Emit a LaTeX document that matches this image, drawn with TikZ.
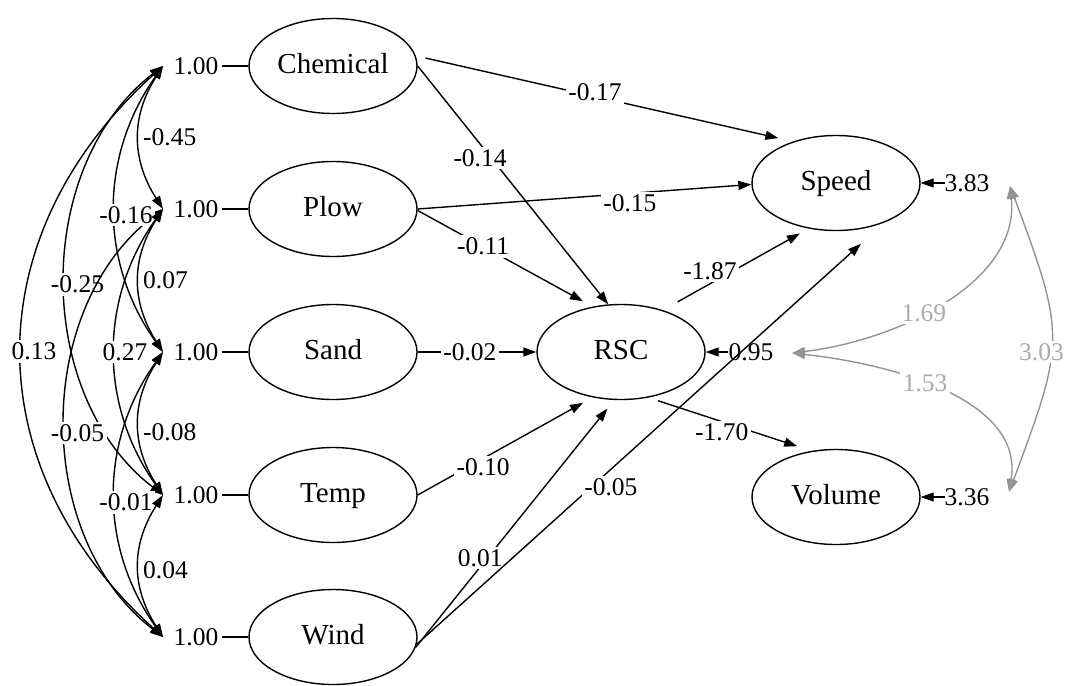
\documentclass[tikz,border=0pt]{standalone}
\usepackage{fontspec}
\setmainfont{Liberation Serif}
\usetikzlibrary{arrows.meta,shapes.geometric}
\tikzset{
  lat/.style={ellipse,draw,line width=1.4pt,minimum width=168pt,minimum height=95pt,inner sep=0pt,font=\fontsize{29}{32}\selectfont,text height=20pt,text depth=5pt},
  vnum/.style={inner xsep=3.5pt,inner ysep=0pt,font=\fontsize{25.5}{28}\selectfont},
  rnum/.style={inner sep=0pt,font=\fontsize{25.5}{28}\selectfont},
  lab/.style={fill=white,inner sep=2.5pt,font=\fontsize{25.5}{28}\selectfont},
  glab/.style={lab,text=black!33},
  semedge/.style={line width=1.4pt,-{Triangle[length=13pt,width=9pt]}},
  semcov/.style={line width=1.4pt,{Triangle[length=13pt,width=9pt]}-{Triangle[length=13pt,width=9pt]}},
  gcov/.style={semcov,draw=black!42},
  link/.style={line width=1.4pt},
}
\begin{document}
\begin{tikzpicture}[x=1pt,y=-1pt]
\useasboundingbox (0,0) rectangle (1067,685);

% latent / observed nodes
\node[lat] (Chem) at (333,66) {Chemical};
\node[lat] (Plow) at (333,209) {Plow};
\node[lat] (Sand) at (333,352) {Sand};
\node[lat] (Temp) at (333,495) {Temp};
\node[lat] (Wind) at (333,637) {Wind};
\node[lat] (RSC) at (621,352) {RSC};
\node[lat] (Speed) at (836,183) {Speed};
\node[lat] (Volume) at (836,497) {Volume};

% variances of exogenous
\node[vnum] (v1) at (196,66) {1.00};
\node[vnum] (v2) at (196,209) {1.00};
\node[vnum] (v3) at (196,352) {1.00};
\node[vnum] (v4) at (196,495) {1.00};
\node[vnum] (v5) at (196,637) {1.00};
\draw[link] (v1.east) -- (Chem.west);
\draw[link] (v2.east) -- (Plow.west);
\draw[link] (v3.east) -- (Sand.west);
\draw[link] (v4.east) -- (Temp.west);
\draw[link] (v5.east) -- (Wind.west);

\coordinate (e1) at (163,66);
\coordinate (e2) at (163,209);
\coordinate (e3) at (163,352);
\coordinate (e4) at (163,495);
\coordinate (e5) at (163,637);

% covariances among exogenous
\draw[semcov] (e1) .. controls +(-188,170) and +(-188,-170) .. node[lab,pos=.5,xshift=12pt]{0.13} (e5);
\draw[semcov] (e1) .. controls +(-130,100) and +(-130,-100) .. node[lab,pos=.5,xshift=12pt,yshift=-4pt]{-0.25} (e4);
\draw[semcov] (e2) .. controls +(-130,100) and +(-130,-100) .. node[lab,pos=.5,xshift=12pt,yshift=-10pt]{-0.05} (e5);
\draw[semcov] (e1) .. controls +(-64,90) and +(-64,-90) .. node[lab,pos=.5,xshift=11pt,yshift=-6pt]{-0.16} (e3);
\draw[semcov] (e2) .. controls +(-64,90) and +(-64,-90) .. node[lab,pos=.5,xshift=10pt]{0.27} (e4);
\draw[semcov] (e3) .. controls +(-64,90) and +(-64,-90) .. node[lab,pos=.5,xshift=11pt,yshift=-8pt]{-0.01} (e5);
\draw[semcov] (e1) .. controls +(-32,50) and +(-32,-50) .. node[lab,pos=.5,anchor=west,xshift=1pt]{-0.45} (e2);
\draw[semcov] (e2) .. controls +(-32,50) and +(-32,-50) .. node[lab,pos=.5,anchor=west,xshift=1pt]{0.07} (e3);
\draw[semcov] (e3) .. controls +(-32,50) and +(-32,-50) .. node[lab,pos=.5,anchor=west,xshift=1pt,yshift=-9pt]{-0.08} (e4);
\draw[semcov] (e4) .. controls +(-32,50) and +(-32,-50) .. node[lab,pos=.5,anchor=west,xshift=1pt,yshift=-4pt]{0.04} (e5);

% regressions
\draw[semedge,shorten <=10pt,shorten >=15pt] (Chem.7) -- node[lab,pos=.475,yshift=4pt]{-0.17} (Speed.136);
\draw[semedge] (Chem.0) -- node[lab,pos=.385,xshift=-11pt]{-0.14} (RSC.105);
\draw[semedge] (Plow.0) -- node[lab,pos=.636,yshift=-10pt]{-0.15} (Speed.181);
\draw[semedge,shorten >=11pt] (Plow.-1) -- node[lab,pos=.374]{-0.11} (RSC.122);
\draw[semedge] (Sand.east) -- node[lab,pos=.44]{-0.02} (RSC.west);
\draw[semedge,shorten >=11pt] (Temp.0) -- node[lab,pos=.374,yshift=-9pt]{-0.10} (RSC.-122);
\draw[semedge,shorten >=11pt] (Wind.-7) -- node[lab,pos=.36,xshift=-7pt]{0.01} (RSC.-98);
\draw[semedge,shorten >=32pt] (Wind.-5) -- node[lab,pos=.415,yshift=-18pt]{-0.05} (Speed.-39);
\draw[semedge,shorten <=17pt,shorten >=10pt] (RSC.45) -- node[lab,pos=.323,yshift=13pt]{-1.87} (Speed.239);
\draw[semedge,shorten <=10pt,shorten >=15pt] (RSC.-59) -- node[lab,pos=.45,yshift=-11pt]{-1.70} (Volume.118);

% residuals
\node[rnum] (rS) at (967,183) {3.83};
\node[rnum] (rR) at (751,352) {0.95};
\node[rnum] (rV) at (967,497) {3.36};
\draw[semedge] (rS.west) -- (Speed.east);
\draw[semedge] (rR.west) -- (RSC.east);
\draw[semedge] (rV.west) -- (Volume.east);

% residual covariances
\coordinate (gS) at (1010,186);
\coordinate (gR) at (792,353);
\coordinate (gV) at (1009,492);
\draw[gcov] (gS) .. controls +(56,150) and +(56,-150) .. node[glab,pos=.5,xshift=-10pt,yshift=-13pt]{3.03} (gV);
\draw[gcov] (gS) .. controls +(10,95) and +(108,-13) .. node[glab,pos=.58]{1.69} (gR);
\draw[gcov] (gV) .. controls +(15,-90) and +(108,12) .. node[glab,pos=.58]{1.53} (gR);
\end{tikzpicture}
\end{document}
